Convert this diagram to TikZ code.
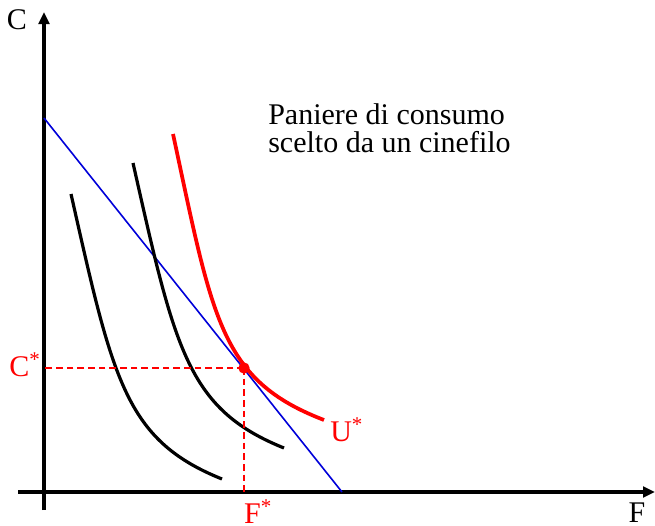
\documentclass[tikz,border=0pt]{standalone}
\usepackage{fontspec}
\setmainfont{Liberation Serif}
\usetikzlibrary{arrows.meta}

\begin{document}
\begin{tikzpicture}[
    x=0.75pt, y=-0.75pt,
    axis/.style={-{Triangle[length=9pt, width=8pt]}, line width=2.5pt},
    indiff/.style={line width=2.4pt},
    optcurve/.style={line width=2.8pt, draw=red},
    budget/.style={line width=1.2pt, draw=blue!85!black},
    proj/.style={red, line width=1.2pt, dash pattern=on 5pt off 3pt},
    lbl/.style={font=\fontsize{22.5}{21}\selectfont, inner sep=0pt},
    redlbl/.style={lbl, text=red}
]
\useasboundingbox (0,0) rectangle (655,525);
% Axes
\coordinate (Yfoot) at (44,510);
\coordinate (Ytop)  at (44,12);
\coordinate (Xleft) at (18,492);
\coordinate (Xend)  at (655,492);
\coordinate (O)     at (44,492);
\draw[axis] (Yfoot) -- (Ytop);
\draw[axis] (Xleft) -- (Xend);
\node[lbl] (Clbl) at (17,20) {C};
\node[lbl] (Flbl) at (637,513) {F};
% Budget line
\coordinate (B0) at (44,118);
\coordinate (B1) at (342,492);
\draw[budget] (B0) -- (B1);
% Indifference curves
\coordinate (U1a) at (71,194);
\coordinate (U1b) at (222,479);
\draw[indiff] (U1a) .. controls (113,380) and (125,440) .. (U1b);
\coordinate (U2a) at (133,163);
\coordinate (U2b) at (284,448);
\draw[indiff] (U2a) .. controls (175,349) and (187,409) .. (U2b);
% Optimal curve U*
\coordinate (U3a) at (173,134);
\coordinate (U3b) at (324,420);
\draw[optcurve] (U3a) .. controls (213,320) and (220,380) .. (U3b);
\node[redlbl, anchor=west] (Ulbl) at (330,430) {U\textsuperscript{*}};
% Optimal basket
\coordinate (E0) at (244,368);
\draw[proj] (E0) -- (E0 -| O);
\draw[proj] (E0) -- (E0 |- O);
\node[circle, fill=red, inner sep=0pt, minimum size=8.5pt] (E) at (E0) {};
\node[redlbl] (Cstar) at (25,365) {C\textsuperscript{*}};
\node[redlbl] (Fstar) at (258,512) {F\textsuperscript{*}};
% Caption
\node[lbl, anchor=north west, align=left] (title) at (268,103)
    {Paniere di consumo\\scelto da un cinefilo};
\end{tikzpicture}
\end{document}
